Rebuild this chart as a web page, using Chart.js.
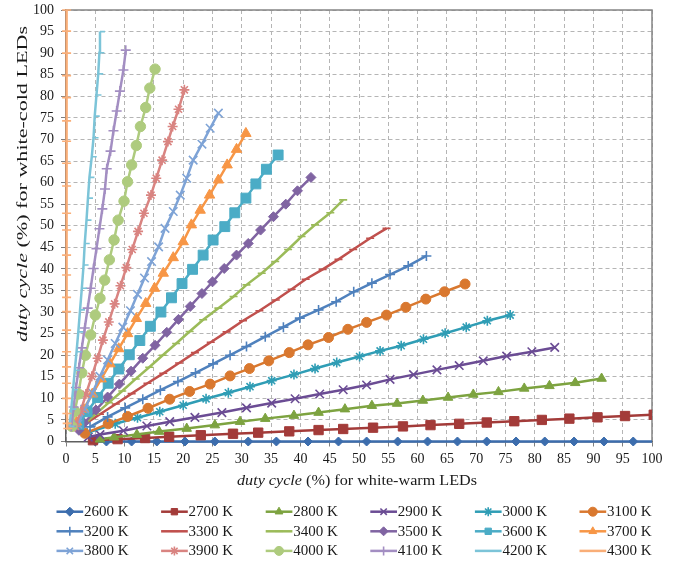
<!DOCTYPE html>
<html><head><meta charset="utf-8">
<script src="https://cdn.jsdelivr.net/npm/chart.js@4.4.1/dist/chart.umd.min.js"></script>
<style>html,body{margin:0;padding:0;background:#fff}</style>
</head><body>
<canvas id="c" width="675" height="561" style="width:675px;height:561px;display:block"></canvas>
<script>
// ---- data ----
const seriesNames = ['2600 K','2700 K','2800 K','2900 K','3000 K','3100 K','3200 K','3300 K','3400 K','3500 K','3600 K','3700 K','3800 K','3900 K','4000 K','4100 K','4200 K','4300 K'];
const xTicks = [0,5,10,15,20,25,30,35,40,45,50,55,60,65,70,75,80,85,90,95,100];

const x2600 = [5.0, 6.9, 11.2, 15.5, 20.3, 25.4, 31.1, 35.9, 41.3, 46.5, 51.3, 56.6, 61.7, 66.8, 71.8, 76.8, 81.7, 86.7, 91.8, 96.8, 101.8];
const y2600 = [0, 0, 0, 0, 0, 0, 0, 0, 0, 0, 0, 0, 0, 0, 0, 0, 0, 0, 0, 0, 0];
const x2700 = [4.6, 8.8, 13.5, 17.6, 23.0, 28.5, 32.8, 38.1, 43.1, 47.3, 52.4, 57.5, 62.2, 67.1, 71.8, 76.5, 81.2, 85.9, 90.7, 95.4, 100.3];
const y2700 = [0.3, 0.55, 0.8, 1.1, 1.45, 1.8, 2.05, 2.35, 2.65, 2.9, 3.2, 3.5, 3.8, 4.1, 4.4, 4.7, 5.0, 5.3, 5.6, 5.9, 6.2];
const x2800 = [5.8, 8.2, 12.1, 15.9, 20.6, 25.4, 29.7, 34.0, 38.9, 43.1, 47.6, 52.2, 56.5, 60.9, 65.2, 69.5, 73.8, 78.2, 82.5, 86.9, 91.4];
const y2800 = [0.5, 1.0, 1.6, 2.3, 3.0, 3.8, 4.6, 5.3, 6.0, 6.7, 7.5, 8.3, 8.8, 9.5, 10.2, 10.9, 11.5, 12.3, 12.9, 13.6, 14.6];
const x2900 = [3.8, 5.8, 9.8, 13.8, 17.7, 22.0, 26.6, 30.8, 35.1, 39.1, 43.3, 47.3, 51.3, 55.3, 59.3, 63.3, 67.1, 71.2, 75.2, 79.5, 83.4];
const y2900 = [1.0, 1.6, 2.5, 3.6, 4.6, 5.6, 6.7, 7.8, 8.9, 9.9, 11.0, 12.0, 13.1, 14.4, 15.5, 16.6, 17.6, 18.7, 19.8, 20.8, 21.8];
const x3000 = [3.6, 8.4, 12.2, 16.0, 20.0, 23.9, 27.7, 31.4, 35.1, 38.9, 42.5, 46.2, 50.1, 53.6, 57.2, 61.0, 64.7, 68.3, 71.9, 75.8];
const y3000 = [2.0, 4.1, 5.5, 6.9, 8.4, 9.9, 11.3, 12.7, 14.1, 15.5, 16.9, 18.3, 19.7, 21.0, 22.2, 23.7, 25.1, 26.5, 28.0, 29.3];
const x3100 = [3.2, 7.2, 10.5, 14.0, 17.7, 21.1, 24.6, 28.0, 31.3, 34.6, 38.1, 41.3, 44.8, 48.1, 51.3, 54.7, 58.0, 61.4, 64.6, 68.1];
const y3100 = [1.9, 4.1, 5.8, 7.7, 9.8, 11.6, 13.3, 15.2, 16.9, 18.7, 20.6, 22.4, 24.1, 26.0, 27.6, 29.3, 31.1, 33.0, 34.7, 36.5];
const x3200 = [4.1, 7.1, 10.1, 13.1, 16.1, 19.1, 22.1, 25.1, 28.0, 30.8, 34.0, 37.1, 39.9, 43.1, 46.1, 49.1, 52.2, 55.3, 58.4, 61.5];
const y3200 = [3.4, 5.7, 7.8, 9.8, 11.9, 13.9, 15.9, 18.0, 20.0, 22.0, 24.3, 26.5, 28.6, 30.5, 32.4, 34.7, 36.7, 38.7, 40.7, 43.0];
const x3300 = [2.6, 5.8, 8.5, 11.2, 13.9, 16.6, 19.3, 22.0, 24.7, 27.4, 30.2, 33.0, 35.8, 38.5, 40.9, 43.8, 46.5, 49.0, 51.9, 54.7];
const y3300 = [3.5, 6.3, 8.7, 11.1, 13.5, 15.8, 18.2, 20.6, 23.0, 25.4, 28.0, 30.3, 32.8, 35.3, 37.6, 39.9, 42.2, 44.5, 47.1, 49.4];
const x3400 = [2.4, 5.0, 7.3, 9.6, 11.9, 14.2, 16.5, 18.8, 21.1, 23.4, 26.0, 28.6, 30.8, 33.4, 35.7, 37.9, 40.2, 42.5, 45.1, 47.3];
const y3400 = [3.2, 6.3, 9.0, 11.7, 14.5, 17.2, 20.0, 22.7, 25.5, 28.2, 30.9, 33.6, 36.3, 39.0, 41.7, 44.5, 47.5, 50.2, 53.0, 56.0];
const x3500 = [2.2, 3.1, 5.1, 7.1, 9.1, 11.1, 13.1, 15.2, 17.2, 19.2, 21.2, 23.2, 25.0, 27.0, 29.1, 31.1, 33.2, 35.4, 37.5, 39.5, 41.8];
const y3500 = [2.6, 4.3, 7.3, 10.3, 13.3, 16.3, 19.3, 22.3, 25.3, 28.3, 31.3, 34.3, 37.0, 40.1, 43.2, 45.9, 49.0, 52.1, 55.0, 58.1, 61.2];
const x3600 = [2.2, 3.6, 5.4, 7.2, 9.0, 10.8, 12.6, 14.4, 16.2, 18.0, 19.8, 21.6, 23.4, 25.1, 27.1, 28.8, 30.7, 32.4, 34.2, 36.2];
const y3600 = [4.0, 6.9, 10.2, 13.5, 16.8, 20.1, 23.4, 26.7, 30.0, 33.3, 36.6, 39.9, 43.2, 46.7, 49.8, 53.0, 56.4, 59.7, 63.1, 66.4];
const x3700 = [1.8, 3.0, 4.5, 6.0, 7.5, 9.0, 10.5, 12.0, 13.6, 15.1, 16.6, 18.3, 20.0, 21.4, 22.9, 24.5, 26.0, 27.5, 29.1, 30.7];
const y3700 = [4.5, 7.5, 11.0, 14.5, 18.0, 21.5, 25.0, 28.5, 32.0, 35.5, 39.0, 42.6, 46.3, 50.2, 53.6, 57.1, 60.6, 64.1, 67.7, 71.4];
const x3800 = [2.0, 3.2, 4.5, 5.8, 7.1, 8.4, 9.7, 11.0, 12.2, 13.4, 14.6, 15.8, 16.9, 18.3, 19.5, 20.6, 21.7, 23.2, 24.6, 26.0];
const y3800 = [4.0, 7.5, 11.3, 15.1, 18.9, 22.7, 26.5, 30.3, 34.1, 37.9, 41.7, 45.1, 49.4, 53.3, 57.1, 61.0, 65.2, 68.9, 72.6, 76.1];
const x3900 = [1.6, 2.5, 3.4, 4.4, 5.4, 6.3, 7.3, 8.3, 9.3, 10.3, 11.3, 12.3, 13.3, 14.5, 15.4, 16.4, 17.4, 18.2, 19.2, 20.2];
const y3900 = [3.5, 7.0, 11.0, 15.1, 19.3, 23.5, 27.7, 31.9, 36.1, 40.3, 44.5, 48.7, 52.9, 57.1, 61.0, 65.2, 69.5, 73.0, 77.0, 81.5];
const x4000 = [1.0, 1.5, 2.1, 2.7, 3.3, 4.2, 5.0, 5.8, 6.6, 7.4, 8.2, 8.9, 9.9, 10.5, 11.2, 12.0, 12.7, 13.6, 14.3, 15.2];
const y4000 = [3.5, 7.0, 11.0, 15.9, 20.0, 24.7, 29.3, 33.2, 37.4, 42.1, 46.7, 51.3, 55.7, 60.2, 64.1, 68.6, 73.0, 77.4, 81.9, 86.3];
const x4100 = [0.9, 1.3, 1.7, 2.2, 2.7, 3.2, 3.7, 4.2, 4.7, 5.2, 5.7, 6.2, 6.65, 6.95, 7.6, 8.1, 8.65, 9.2, 9.8, 10.2];
const y4100 = [3.5, 8.0, 12.5, 17.1, 21.7, 26.3, 30.9, 35.5, 40.1, 44.7, 49.3, 53.9, 58.5, 63.2, 67.3, 72.0, 76.6, 81.2, 86.1, 90.7];
const x4200 = [0.6, 0.9, 1.2, 1.5, 1.8, 2.1, 2.4, 2.7, 3.0, 3.2, 3.5, 3.75, 4.0, 4.4, 4.7, 4.9, 5.2, 5.5, 5.7, 5.8];
const y4200 = [3.5, 7.5, 12.0, 16.5, 20.8, 25.4, 30.5, 35.5, 40.9, 45.9, 51.3, 56.4, 61.2, 66.0, 70.4, 75.4, 80.3, 85.2, 90.1, 95.0];
const x4300 = [0.3, 0.2, 0.15, 0.1, 0.1, 0.1, 0.1, 0.1, 0.1, 0.1, 0.1, 0.1, 0.1, 0.1, 0.1, 0.1, 0.1, 0.1, 0.1, 0.1, 0.1, 0.1, 0.1];
const y4300 = [3.0, 4.2, 6.5, 10.0, 13.5, 17.3, 20.8, 25.8, 30.1, 33.4, 38.6, 43.2, 49.0, 52.9, 59.2, 64.5, 69.6, 74.3, 79.7, 84.8, 90.0, 95.1, 100];

const xSeries = [x2600,x2700,x2800,x2900,x3000,x3100,x3200,x3300,x3400,x3500,x3600,x3700,x3800,x3900,x4000,x4100,x4200,x4300];
const ySeries = [y2600,y2700,y2800,y2900,y3000,y3100,y3200,y3300,y3400,y3500,y3600,y3700,y3800,y3900,y4000,y4100,y4200,y4300];

// ---- styles ----
const colors = ['#3C6DAD','#A33B39','#7DA340','#6B4C94','#2F9DB5','#D9782F',
                '#4F81BD','#C0504D','#9BBB59','#8064A2','#4BACC6','#F79646',
                '#7EA3D6','#D98481','#AECB7E','#A38EC2','#7CC4D8','#F9AE78'];
const markers = ['rectRot','rect','triangle','crossRot','star','circle','cross','line','line',
                 'rectRot','rect','triangle','crossRot','star','circle','cross','dash','line'];
const radii   = [4.5, 6.6, 5.5, 6.0, 5.0, 5.0, 5.0, 4.0, 4.0,
                 5.0, 7.0, 6.0, 6.0, 5.0, 5.2, 5.0, 5.0, 4.5];
const FONT = "'Liberation Serif','Times New Roman',serif";

const datasets = seriesNames.map((name, i) => ({
  label: name,
  data: xSeries[i].map((x, j) => ({x: x, y: ySeries[i][j]})),
  showLine: true,
  borderColor: colors[i],
  backgroundColor: colors[i],
  borderWidth: 2.5,
  pointStyle: markers[i],
  pointRadius: radii[i],
  pointBackgroundColor: colors[i],
  pointBorderColor: colors[i],
  pointBorderWidth: (['crossRot','star','cross','line','dash'].includes(markers[i])) ? 1.6 : 1,
  order: -i,
  tension: 0,
  clip: {left: 10, top: 10, right: 0, bottom: 10}
}));

function drawFit(ctx, parts, cx, cy, targetW, size) {
  let widths = parts.map(p => { ctx.font = (p.i ? 'italic ' : '') + size + 'px ' + FONT; return ctx.measureText(p.t).width; });
  const W = widths.reduce((a, b) => a + b, 0);
  ctx.save();
  ctx.translate(cx, cy);
  ctx.scale(targetW / W, 1);
  ctx.textAlign = 'left'; ctx.textBaseline = 'middle';
  let x = -W / 2;
  parts.forEach((p, k) => { ctx.font = (p.i ? 'italic ' : '') + size + 'px ' + FONT; ctx.fillText(p.t, x, 0); x += widths[k]; });
  ctx.restore();
}

function marker(ctx, style, r, x, y, bw) {
  if (window.Chart && Chart.helpers && Chart.helpers.drawPoint) {
    Chart.helpers.drawPoint(ctx, {pointStyle: style, rotation: 0, radius: r, borderWidth: bw}, x, y);
  } else {
    ctx.beginPath(); ctx.arc(x, y, r, 0, Math.PI * 2); ctx.fill();
  }
}

const deco = {
  id: 'deco',
  beforeDatasetsDraw(chart) {
    const ctx = chart.ctx, a = chart.chartArea;
    ctx.save();
    ctx.strokeStyle = '#858585'; ctx.lineWidth = 1.5;
    ctx.beginPath(); ctx.moveTo(a.left, a.top); ctx.lineTo(a.right, a.top); ctx.lineTo(a.right, a.bottom); ctx.stroke();
    ctx.restore();
  },
  afterDraw(chart) {
    const ctx = chart.ctx;
    ctx.save();
    ctx.fillStyle = '#1a1a1a';
    // axis titles
    drawFit(ctx, [{t: 'duty cycle', i: true}, {t: ' (%) for white-warm LEDs', i: false}], 357, 481, 240, 15);
    ctx.save();
    ctx.translate(23, 184);
    ctx.rotate(-Math.PI / 2);
    drawFit(ctx, [{t: 'duty cycle', i: true}, {t: ' (%) for white-cold LEDs', i: false}], 0, 0, 316, 14);
    ctx.restore();
    // legend
    const lx0 = 56.5, pitch = 104.6, ly0 = 511.7, lrow = 19.6;
    chart.data.datasets.forEach((ds, i) => {
      const col = i % 6, row = Math.floor(i / 6);
      const x = lx0 + col * pitch, y = ly0 + row * lrow;
      ctx.strokeStyle = ds.borderColor; ctx.fillStyle = ds.borderColor;
      ctx.lineWidth = 2.5;
      ctx.beginPath(); ctx.moveTo(x, y); ctx.lineTo(x + 26.7, y); ctx.stroke();
      ctx.lineWidth = ds.pointBorderWidth;
      marker(ctx, ds.pointStyle, Math.min(ds.pointRadius, 4.5), x + 13.3, y, ds.pointBorderWidth);
      ctx.fillStyle = '#1a1a1a';
      ctx.font = '15px ' + FONT;
      ctx.textAlign = 'left'; ctx.textBaseline = 'middle';
      ctx.fillText(ds.label, x + 27.5, y + 0.5);
    });
    ctx.restore();
  }
};

new Chart(document.getElementById('c'), {
  type: 'scatter',
  data: {datasets: datasets},
  options: {
    responsive: false,
    animation: false,
    events: [],
    layout: {padding: {left: 0, right: 23, top: 10, bottom: 0}},
    plugins: {legend: {display: false}, tooltip: {enabled: false}, title: {display: false}},
    scales: {
      x: {
        type: 'linear', min: 0, max: 100,
        afterBuildTicks(s) { s.ticks = xTicks.map(v => ({value: v})); },
        ticks: {stepSize: 5, autoSkip: false, maxRotation: 0, padding: 4, color: '#1a1a1a', font: {family: FONT, size: 14}},
        grid: {color: '#b5b5b5', lineWidth: 1, drawTicks: true, tickLength: 5, tickColor: '#7f7f7f', tickWidth: 1, tickBorderDash: [6, 0]},
        border: {display: true, color: '#5f5f5f', width: 1.5, dash: [4, 3]},
        afterFit(s) { s.height = 119.5; s.paddingLeft = 0; s.paddingRight = 0; }
      },
      y: {
        type: 'linear', min: 0, max: 100,
        ticks: {stepSize: 5, autoSkip: false, padding: 7, color: '#1a1a1a', font: {family: FONT, size: 14}},
        grid: {color: '#b5b5b5', lineWidth: 1, drawTicks: true, tickLength: 5, tickColor: '#7f7f7f', tickWidth: 1, tickBorderDash: [6, 0]},
        border: {display: true, color: '#5f5f5f', width: 1.5, dash: [4, 3]},
        afterFit(s) { s.width = 66; s.paddingTop = 0; s.paddingBottom = 0; }
      }
    }
  },
  plugins: [deco]
});
</script>
</body></html>
